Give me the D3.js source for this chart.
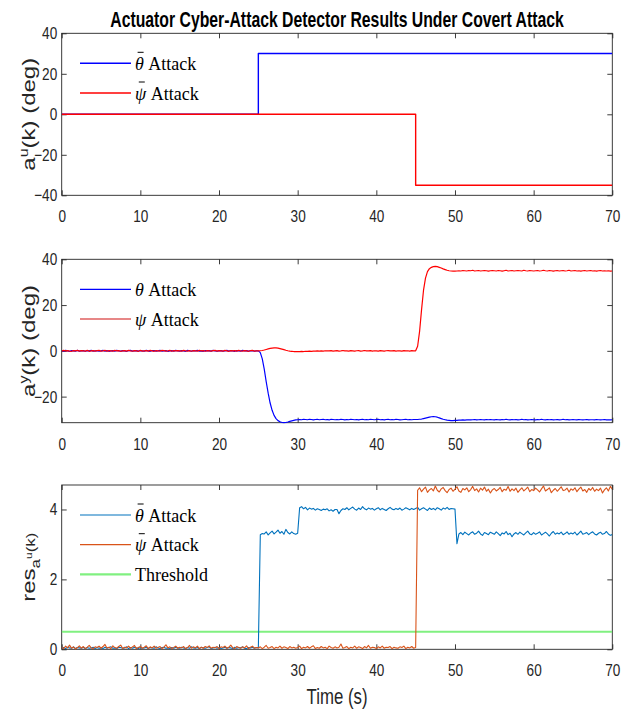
<!DOCTYPE html>
<html>
<head>
<meta charset="utf-8">
<script src="https://cdn.jsdelivr.net/npm/d3@7"></script>
<style>
  body { margin: 0; background: #fff; }
  svg { display: block; }
</style>
</head>
<body>
<svg id="fig" width="631" height="709"></svg>
<script>
// ---- data ----------------------------------------------------------------
const xTicks = [0, 10, 20, 30, 40, 50, 60, 70];
const auTicks = [-40, -20, 0, 20, 40];
const ayTicks = [-20, 0, 20, 40];
const resTicks = [0, 2, 4];

// injected actuator attacks (step signals, deg)
const auThetaT = [0, 25, 70];
const auThetaV = [0, 30, 30];
const auPsiT = [0, 45, 70];
const auPsiV = [0, -35, -35];

// sample instants of the simulated outputs (0.25 s sampling)
const sampleStep = 0.25;

// output deviation caused by the theta attack (deg)
const ayTheta = [
  0.1,-0.1,0.2,0.0,-0.2,0.1,0.0,-0.1,0.2,-0.1,0.0,0.1,-0.2,0.1,0.0,0.2,-0.1,0.0,0.1,-0.1,
  0.0,0.2,-0.1,0.1,-0.2,0.0,0.1,-0.1,0.2,0.0,-0.1,0.1,0.0,-0.2,0.1,0.2,-0.1,0.0,0.1,-0.1,
  0.1,0.0,-0.1,0.2,0.0,-0.2,0.1,0.1,-0.1,0.0,0.2,-0.1,0.0,0.1,-0.2,0.0,0.1,-0.1,0.2,0.0,
  -0.1,0.1,0.0,-0.2,0.2,0.0,-0.1,0.1,0.0,0.2,-0.1,0.0,-0.2,0.1,0.0,0.1,-0.1,0.2,0.0,-0.1,
  0.0,0.1,-0.1,0.0,0.2,-0.1,0.1,0.0,-0.2,0.1,0.0,-0.1,0.2,0.0,0.1,-0.1,0.0,0.1,-0.1,0.0,
  0.0,-0.8,-3.5,-8.0,-13.5,-18.5,-22.8,-26.0,-28.2,-29.6,-30.5,-31.0,-31.3,-31.4,-31.3,-31.1,-30.8,-30.6,-30.4,-30.2,
  -30.1,-30.0,-30.1,-29.9,-30.0,-30.1,-29.9,-30.0,-30.2,-30.0,-29.9,-30.1,-30.0,-29.9,-30.1,-30.0,-30.2,-29.9,-30.0,-30.1,
  -30.0,-30.1,-29.9,-30.0,-30.2,-30.0,-30.1,-29.9,-30.0,-30.1,-30.0,-30.2,-30.0,-29.9,-30.1,-30.0,-30.1,-29.9,-30.0,-30.1,
  -30.0,-29.9,-30.1,-30.0,-30.2,-30.0,-29.9,-30.1,-30.0,-30.1,-29.9,-30.0,-30.2,-30.1,-30.0,-29.9,-30.1,-30.0,-30.1,-30.0,
  -30.0,-30.0,-29.9,-29.8,-29.6,-29.4,-29.2,-29.0,-28.8,-28.7,-28.8,-29.0,-29.3,-29.6,-29.9,-30.1,-30.3,-30.4,-30.5,-30.5,
  -30.4,-30.4,-30.3,-30.3,-30.2,-30.3,-30.2,-30.1,-30.2,-30.1,-30.0,-30.2,-30.1,-30.0,-30.1,-30.2,-30.0,-30.1,-30.0,-30.1,
  -30.2,-30.0,-30.1,-30.2,-30.0,-30.1,-29.9,-30.1,-30.2,-30.0,-30.1,-30.0,-30.2,-30.1,-29.9,-30.1,-30.0,-30.2,-30.1,-30.0,
  -30.1,-30.2,-30.0,-30.1,-29.9,-30.1,-30.2,-30.0,-30.1,-30.0,-30.2,-30.1,-30.0,-30.2,-30.1,-29.9,-30.1,-30.0,-30.2,-30.1,
  -30.0,-30.1,-30.2,-30.0,-30.1,-30.2,-30.1,-30.0,-30.2,-30.1,-30.1,-30.2,-30.0,-30.1,-30.2,-30.1,-30.0,-30.2,-30.1,-30.2,
  -30.1
];

// output deviation caused by the psi attack (deg)
const ayPsi = [
  -0.1,0.2,0.0,0.1,-0.1,-0.2,0.1,0.0,0.2,-0.1,0.1,0.0,-0.1,0.2,-0.2,0.0,0.1,-0.1,0.1,0.2,
  -0.1,0.0,0.2,-0.2,0.1,0.0,-0.1,0.2,0.0,0.1,-0.2,0.0,0.1,-0.1,0.2,0.0,-0.1,0.1,0.0,-0.2,
  0.2,-0.1,0.0,0.1,-0.1,0.2,0.0,-0.2,0.1,0.0,-0.1,0.2,0.1,-0.1,0.0,0.2,-0.2,0.1,0.0,0.1,
  0.0,-0.1,0.2,0.0,-0.1,0.1,-0.2,0.1,0.0,-0.1,0.2,0.0,0.1,-0.2,0.1,0.0,-0.1,0.1,0.2,-0.1,
  0.1,0.0,-0.1,0.2,0.0,-0.2,0.1,0.0,0.1,-0.1,0.2,0.0,-0.1,0.1,0.0,-0.2,0.1,0.2,-0.1,0.0,
  0.0,0.05,0.15,0.35,0.6,0.85,1.05,1.2,1.3,1.3,1.2,1.0,0.75,0.5,0.25,0.05,-0.1,-0.2,-0.3,-0.3,
  -0.3,-0.35,-0.25,-0.3,-0.2,-0.25,-0.15,-0.2,-0.1,-0.15,-0.05,-0.1,0.0,-0.1,0.05,-0.05,0.0,0.1,-0.1,0.0,
  0.1,-0.1,0.0,0.15,-0.05,0.0,-0.15,0.1,0.0,-0.1,0.05,0.1,-0.1,0.0,0.15,-0.05,0.0,0.1,-0.1,0.05,
  0.0,-0.1,0.1,0.0,-0.15,0.05,0.1,-0.05,0.0,0.1,-0.1,0.05,0.0,-0.1,0.1,0.0,0.05,-0.1,0.1,0.0,
  0.0,2.0,8.5,18.0,26.5,31.8,34.6,35.9,36.5,36.8,36.9,36.8,36.5,36.2,35.8,35.5,35.2,35.0,34.9,34.8,
  34.8,34.9,35.0,34.9,35.1,35.0,34.9,35.1,35.0,35.2,34.9,35.0,35.1,34.9,35.0,35.1,35.0,34.8,35.0,35.1,
  35.0,34.9,35.1,35.0,34.8,35.0,35.2,34.9,35.0,35.1,34.9,35.0,35.1,35.0,34.9,35.2,35.0,34.9,35.1,35.0,
  34.9,35.0,35.1,34.9,35.0,35.2,35.0,34.9,35.1,35.0,34.8,35.0,35.1,34.9,35.0,35.1,34.9,35.0,35.2,34.9,
  35.0,35.1,34.9,35.0,34.8,35.0,35.1,34.9,35.0,35.1,34.9,35.0,34.8,35.0,35.1,34.9,35.0,34.9,35.0,34.8,
  34.9
];

// detector residual for the theta-bar attack
const resTheta = [
  0.03,0.05,0.02,0.06,0.04,0.03,0.07,0.02,0.05,0.04,0.03,0.06,0.02,0.05,0.03,0.04,0.06,0.02,0.05,0.03,
  0.04,0.02,0.06,0.03,0.05,0.07,0.03,0.04,0.02,0.06,0.05,0.03,0.04,0.07,0.02,0.05,0.03,0.06,0.04,0.02,
  0.05,0.03,0.04,0.06,0.02,0.05,0.04,0.03,0.07,0.04,0.02,0.05,0.06,0.03,0.04,0.02,0.05,0.03,0.06,0.04,
  0.03,0.06,0.04,0.02,0.05,0.03,0.07,0.04,0.03,0.05,0.02,0.06,0.04,0.03,0.05,0.07,0.02,0.04,0.06,0.03,
  0.05,0.02,0.04,0.06,0.03,0.05,0.04,0.02,0.06,0.03,0.05,0.04,0.07,0.03,0.02,0.05,0.04,0.06,0.03,0.05,
  0.04,3.28,3.31,3.30,3.36,3.27,3.33,3.38,3.30,3.35,3.41,3.32,3.37,3.29,3.43,3.34,3.30,3.36,3.31,3.29,
  3.32,4.05,4.08,4.02,4.06,3.99,4.04,4.01,4.03,3.98,4.02,4.00,3.97,4.01,3.99,4.02,3.96,3.99,3.95,4.00,
  4.00,3.88,3.97,4.02,4.00,4.05,3.99,4.03,4.07,4.01,3.98,4.04,4.00,4.08,4.02,3.99,4.04,4.01,4.03,3.98,
  4.02,4.05,3.99,4.03,4.00,3.97,4.02,4.06,4.01,3.99,4.03,4.00,4.04,3.98,4.01,4.05,4.02,3.99,4.03,4.00,
  4.03,4.06,3.98,4.02,4.05,4.01,3.97,4.04,4.00,4.03,3.99,4.05,4.02,3.98,4.04,4.01,4.06,4.00,4.03,4.02,
  4.01,3.02,3.30,3.34,3.28,3.35,3.31,3.27,3.33,3.36,3.29,3.32,3.38,3.30,3.26,3.34,3.31,3.28,3.35,3.32,
  3.29,3.36,3.31,3.25,3.33,3.30,3.37,3.28,3.32,3.22,3.30,3.34,3.29,3.35,3.31,3.27,3.33,3.38,3.30,3.28,
  3.34,3.29,3.32,3.36,3.27,3.31,3.35,3.30,3.24,3.32,3.37,3.29,3.33,3.30,3.35,3.28,3.31,3.36,3.29,3.33,
  3.30,3.35,3.27,3.32,3.38,3.29,3.31,3.34,3.28,3.33,3.36,3.30,3.27,3.32,3.35,3.29,3.31,3.37,3.30,3.26,
  3.28
];

// detector residual for the psi-bar attack
const resPsi = [
  0.06,0.02,0.09,0.04,0.12,0.03,0.07,0.01,0.05,0.10,0.03,0.08,0.02,0.06,0.11,0.04,0.02,0.07,0.05,0.09,
  0.03,0.08,0.14,0.04,0.06,0.02,0.10,0.05,0.03,0.08,0.12,0.02,0.06,0.04,0.09,0.03,0.07,0.11,0.02,0.05,
  0.08,0.03,0.06,0.10,0.02,0.07,0.04,0.09,0.03,0.05,0.08,0.02,0.06,0.13,0.04,0.07,0.02,0.05,0.09,0.03,
  0.06,0.04,0.08,0.02,0.05,0.11,0.03,0.07,0.04,0.09,0.02,0.06,0.03,0.08,0.05,0.10,0.03,0.06,0.04,0.08,
  0.02,0.07,0.05,0.09,0.03,0.06,0.12,0.04,0.02,0.08,0.05,0.03,0.07,0.04,0.10,0.02,0.06,0.09,0.03,0.05,
  0.04,0.07,0.02,0.06,0.11,0.03,0.05,0.08,0.02,0.06,0.04,0.09,0.03,0.07,0.05,0.02,0.08,0.04,0.06,0.03,
  0.05,0.09,0.02,0.06,0.04,0.08,0.03,0.07,0.10,0.02,0.05,0.03,0.08,0.04,0.06,0.02,0.09,0.05,0.03,0.07,
  0.04,0.06,0.15,0.03,0.05,0.08,0.02,0.06,0.04,0.09,0.03,0.07,0.05,0.02,0.08,0.04,0.11,0.03,0.06,0.05,
  0.02,0.07,0.04,0.09,0.03,0.06,0.05,0.08,0.02,0.06,0.04,0.03,0.07,0.05,0.09,0.02,0.06,0.04,0.08,0.03,
  0.05,4.55,4.62,4.51,4.58,4.64,4.49,4.56,4.60,4.53,4.67,4.55,4.50,4.59,4.63,4.54,4.48,4.57,4.61,4.52,
  4.58,4.65,4.53,4.49,4.60,4.56,4.62,4.51,4.57,4.66,4.54,4.59,4.50,4.61,4.55,4.64,4.52,4.58,4.47,4.56,
  4.60,4.53,4.57,4.63,4.51,4.58,4.55,4.66,4.52,4.59,4.54,4.61,4.49,4.56,4.62,4.53,4.58,4.64,4.51,4.57,
  4.54,4.61,4.56,4.50,4.59,4.67,4.53,4.57,4.62,4.48,4.55,4.60,4.52,4.58,4.65,4.54,4.56,4.61,4.50,4.59,
  4.55,4.62,4.51,4.58,4.64,4.53,4.57,4.49,4.60,4.55,4.63,4.52,4.58,4.54,4.61,4.47,4.56,4.62,4.53,4.66,
  4.58
];

const thresholdT = [0, 70];
const thresholdV = [0.5, 0.5];

// ---- layout & styling ----------------------------------------------------
const W = 631, H = 709;
const plotLeft = 61.7, plotRight = 612.3;
const axisColor = "#262626";
const sansFont = "'Liberation Sans', Arial, Helvetica, sans-serif";
const serifFont = "'Liberation Serif', 'Times New Roman', serif";
const tickScaleX = 0.8;

const svg = d3.select("#fig");
svg.append("rect").attr("width", W).attr("height", H).attr("fill", "#fff");

const x = d3.scaleLinear().domain([0, 70]).range([plotLeft, plotRight]);
const times = ayTheta.map((_, i) => i * sampleStep);

const panels = [
  {
    id: "au", top: 33.3, bottom: 195.3, domain: [-40, 40], ticks: auTicks,
    series: [
      { t: auThetaT, v: auThetaV, color: "#0000ff", width: 1.4, step: true },
      { t: auPsiT, v: auPsiV, color: "#ff0000", width: 1.4, step: true }
    ],
    legend: [
      { sym: "θ", bar: true, text: " Attack", color: "#0000ff", width: 1.4 },
      { sym: "ψ", bar: true, text: " Attack", color: "#ff0000", width: 1.4 }
    ]
  },
  {
    id: "ay", top: 259.3, bottom: 422.7, domain: [-31.4, 40], ticks: ayTicks,
    series: [
      { t: times, v: ayTheta, color: "#0000ff", width: 1.2 },
      { t: times, v: ayPsi, color: "#ff0000", width: 1.2 }
    ],
    legend: [
      { sym: "θ", bar: false, text: " Attack", color: "#0000ff", width: 1.2 },
      { sym: "ψ", bar: false, text: " Attack", color: "#d01010", width: 1.2 }
    ]
  },
  {
    id: "res", top: 485, bottom: 649.3, domain: [0, 4.7], ticks: resTicks,
    series: [
      { t: thresholdT, v: thresholdV, color: "#80f080", width: 2 },
      { t: times, v: resTheta, color: "#0072bd", width: 1.1 },
      { t: times, v: resPsi, color: "#d95319", width: 1.1 }
    ],
    legend: [
      { sym: "θ", bar: true, text: " Attack", color: "#0072bd", width: 1.2 },
      { sym: "ψ", bar: true, text: " Attack", color: "#d95319", width: 1.2 },
      { sym: "", bar: false, text: "Threshold", color: "#80f080", width: 2.2 }
    ]
  }
];

function styleTicks(g, sx, kind) {
  g.select(".domain").remove();
  g.attr("font-family", sansFont).attr("font-size", 17);
  g.selectAll(".tick line").attr("stroke", axisColor).attr("stroke-width", 0.9);
  g.selectAll(".tick text").attr("fill", axisColor);
  if (kind === "left") {
    g.selectAll(".tick text").attr("x", -4.5 / sx).attr("transform", `scale(${sx},1)`);
  } else if (kind === "bottom") {
    g.selectAll(".tick text").attr("y", 27).attr("dy", null).attr("transform", `scale(${sx},1)`);
  }
}

panels.forEach(p => {
  const y = d3.scaleLinear().domain(p.domain).range([p.bottom, p.top]);
  const g = svg.append("g").attr("class", "panel-" + p.id);

  // axes (drawn below the data)
  const gL = g.append("g").attr("transform", `translate(${plotLeft},0)`)
    .call(d3.axisLeft(y).tickValues(p.ticks).tickFormat(d3.format("d")).tickSizeInner(-5).tickSizeOuter(0).tickPadding(5));
  styleTicks(gL, tickScaleX, "left");
  const gR = g.append("g").attr("transform", `translate(${plotRight},0)`)
    .call(d3.axisRight(y).tickValues(p.ticks).tickFormat(() => "").tickSizeInner(-5).tickSizeOuter(0));
  styleTicks(gR, 1, "right");
  const gB = g.append("g").attr("transform", `translate(0,${p.bottom})`)
    .call(d3.axisBottom(x).tickValues(xTicks).tickFormat(d3.format("d")).tickSizeInner(-5).tickSizeOuter(0).tickPadding(0));
  styleTicks(gB, tickScaleX, "bottom");
  const gT = g.append("g").attr("transform", `translate(0,${p.top})`)
    .call(d3.axisTop(x).tickValues(xTicks).tickFormat(() => "").tickSizeInner(-5).tickSizeOuter(0));
  styleTicks(gT, 1, "top");

  g.append("rect")
    .attr("x", plotLeft).attr("y", p.top)
    .attr("width", plotRight - plotLeft).attr("height", p.bottom - p.top)
    .attr("fill", "none").attr("stroke", axisColor).attr("stroke-width", 0.9);

  // data
  const clipId = "clip-" + p.id;
  g.append("clipPath").attr("id", clipId).append("rect")
    .attr("x", plotLeft).attr("y", p.top - 1)
    .attr("width", plotRight - plotLeft).attr("height", p.bottom - p.top + 2);
  const dataG = g.append("g").attr("clip-path", `url(#${clipId})`);
  p.series.forEach(s => {
    const line = d3.line().x(d => x(d[0])).y(d => y(d[1]));
    if (s.step) line.curve(d3.curveStepAfter);
    dataG.append("path")
      .datum(d3.zip(s.t, s.v))
      .attr("d", line)
      .attr("fill", "none")
      .attr("stroke", s.color)
      .attr("stroke-width", s.width)
      .attr("stroke-linejoin", "round");
  });

  // legend
  const lg = g.append("g").attr("class", "legend");
  p.legend.forEach((e, i) => {
    const ly = p.top + 30 + i * 29.7;
    lg.append("line")
      .attr("x1", 80).attr("x2", 131).attr("y1", ly).attr("y2", ly)
      .attr("stroke", e.color).attr("stroke-width", e.width);
    const t = lg.append("text")
      .attr("x", 135).attr("y", ly + 6.5)
      .attr("font-family", serifFont).attr("font-size", 18).attr("fill", "#000");
    if (e.sym) {
      t.append("tspan").attr("font-style", "italic").text(e.sym);
    }
    t.append("tspan").text(e.text);
    if (e.bar) {
      const box = t.node().getExtentOfChar(0);
      const cx = box.x + box.width / 2 + 1.2;
      lg.append("line")
        .attr("x1", cx - 3).attr("x2", cx + 3)
        .attr("y1", ly + 6.5 - 17.5).attr("y2", ly + 6.5 - 17.5)
        .attr("stroke", "#000").attr("stroke-width", 1);
    }
  });
});

// ---- titles & axis labels ------------------------------------------------
// condensed text: natural glyphs squeezed horizontally to a target width
function condensedText(cx, baseline, targetWidth, attrs, str) {
  const t = svg.append("text").attr("text-anchor", "middle");
  Object.entries(attrs).forEach(([k, v]) => t.attr(k, v));
  t.text(str);
  const natural = t.node().getComputedTextLength();
  const sx = targetWidth / natural;
  t.attr("transform", `translate(${cx},${baseline}) scale(${sx},1)`);
  return t;
}

condensedText((plotLeft + plotRight) / 2, 27, 454,
  { "font-family": sansFont, "font-weight": "bold", "font-size": 22, fill: "#000" },
  "Actuator Cyber-Attack Detector Results Under Covert Attack");

condensedText((plotLeft + plotRight) / 2, 704, 61,
  { "font-family": sansFont, "font-size": 22, fill: axisColor },
  "Time (s)");

function yLabel(cy, build) {
  const t = svg.append("text")
    .attr("transform", `translate(35,${cy}) rotate(-90) scale(1,0.8)`)
    .attr("text-anchor", "middle")
    .attr("font-family", sansFont).attr("font-size", 24).attr("fill", axisColor);
  build(t);
}

yLabel((33.3 + 195.3) / 2, t => {
  t.append("tspan").text("a");
  t.append("tspan").attr("font-size", 16).attr("dy", -9).text("u");
  t.append("tspan").attr("dy", 9).text("(k) (deg)");
});
yLabel((259.3 + 422.7) / 2, t => {
  t.append("tspan").text("a");
  t.append("tspan").attr("font-size", 16).attr("dy", -9).text("y");
  t.append("tspan").attr("dy", 9).text("(k) (deg)");
});
yLabel((485 + 649.3) / 2, t => {
  t.append("tspan").text("res");
  t.append("tspan").attr("font-size", 17).attr("dy", 6).text("a");
  t.append("tspan").attr("font-size", 12).attr("dy", -10).text("u");
  t.append("tspan").attr("font-size", 17).attr("dy", 4).text("(k)");
});
</script>
</body>
</html>
